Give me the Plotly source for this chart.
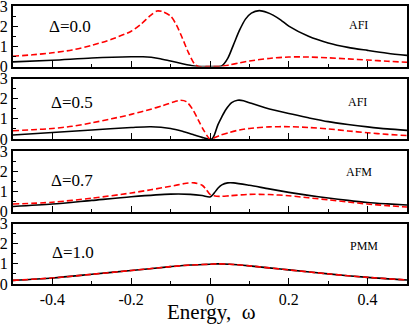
import plotly.graph_objects as go
from plotly.subplots import make_subplots

# panel 1, Delta = 0.0 (AFI)
p1_black_x = [-0.5, -0.4, -0.3, -0.2, -0.17, -0.13, -0.1, -0.07, -0.05, -0.035, -0.02, 0.0, 0.02, 0.03,
              0.045, 0.06, 0.075, 0.09, 0.105, 0.125, 0.145, 0.16, 0.18, 0.2, 0.25, 0.3, 0.35, 0.4, 0.45, 0.5]
p1_black_y = [0.23, 0.31, 0.42, 0.48, 0.48, 0.4, 0.27, 0.14, 0.06, 0.01, 0.0, 0.0, 0.0, 0.03,
              0.4, 1.1, 1.8, 2.35, 2.65, 2.77, 2.68, 2.55, 2.3, 2.0, 1.5, 1.17, 0.95, 0.8, 0.66, 0.55]
p1_red_x = [-0.5, -0.45, -0.4, -0.35, -0.3, -0.25, -0.2, -0.175, -0.15, -0.135, -0.12, -0.1, -0.085,
            -0.07, -0.055, -0.04, -0.03, 0.0, 0.025, 0.05, 0.075, 0.1, 0.15, 0.2, 0.25, 0.3, 0.35, 0.4, 0.45, 0.5]
p1_red_y = [0.51, 0.58, 0.68, 0.82, 1.05, 1.35, 1.75, 2.1, 2.55, 2.75, 2.72, 2.5, 2.05,
            1.4, 0.7, 0.15, 0.0, 0.0, 0.0, 0.08, 0.18, 0.27, 0.4, 0.47, 0.47, 0.43, 0.38, 0.32, 0.26, 0.21]

# panel 2, Delta = 0.5 (AFI)
p2_black_x = [-0.5, -0.4, -0.3, -0.2, -0.15, -0.1, -0.07, -0.04, -0.02, -0.005, 0.005, 0.01, 0.02, 0.03,
              0.04, 0.055, 0.07, 0.085, 0.1, 0.14, 0.2, 0.25, 0.3, 0.35, 0.4, 0.45, 0.5]
p2_black_y = [0.2, 0.32, 0.45, 0.57, 0.61, 0.52, 0.38, 0.2, 0.08, 0.0, 0.0, 0.15, 0.7, 1.1,
              1.45, 1.8, 1.92, 1.9, 1.8, 1.55, 1.26, 1.05, 0.86, 0.72, 0.6, 0.5, 0.43]
p2_red_x = [-0.5, -0.45, -0.4, -0.35, -0.3, -0.25, -0.2, -0.15, -0.12, -0.09, -0.075, -0.06, -0.045,
            -0.03, -0.015, 0.0, 0.01, 0.025, 0.05, 0.075, 0.1, 0.15, 0.2, 0.25, 0.3, 0.35, 0.4, 0.45, 0.5]
p2_red_y = [0.41, 0.46, 0.52, 0.63, 0.8, 1.0, 1.22, 1.48, 1.65, 1.85, 1.92, 1.85, 1.5,
            0.95, 0.4, 0.0, 0.05, 0.18, 0.33, 0.45, 0.52, 0.6, 0.61, 0.57, 0.5, 0.4, 0.31, 0.23, 0.17]

# panel 3, Delta = 0.7 (AFM)
p3_black_x = [-0.5, -0.4, -0.3, -0.2, -0.1, -0.05, -0.02, 0.0, 0.01, 0.02, 0.03, 0.045, 0.06,
              0.1, 0.15, 0.2, 0.25, 0.3, 0.35, 0.4, 0.45, 0.5]
p3_black_y = [0.25, 0.37, 0.55, 0.73, 0.86, 0.85, 0.79, 0.72, 0.9, 1.15, 1.32, 1.42, 1.42,
              1.3, 1.12, 0.95, 0.8, 0.67, 0.55, 0.45, 0.38, 0.32]
p3_red_x = [-0.5, -0.4, -0.3, -0.2, -0.15, -0.1, -0.06, -0.04, -0.02, -0.01, 0.0, 0.01, 0.025,
            0.05, 0.1, 0.15, 0.2, 0.25, 0.3, 0.35, 0.4, 0.45, 0.5]
p3_red_y = [0.37, 0.46, 0.66, 0.92, 1.08, 1.25, 1.4, 1.42, 1.3, 1.1, 0.85, 0.78, 0.75,
            0.78, 0.85, 0.84, 0.78, 0.68, 0.58, 0.47, 0.37, 0.29, 0.22]

# panel 4, Delta = 1.0 (PMM) - both curves coincide
p4_x = [-0.5, -0.4, -0.3, -0.2, -0.1, -0.05, 0.0, 0.02, 0.05, 0.1, 0.15, 0.2, 0.3, 0.4, 0.5]
p4_black_y = [0.18, 0.3, 0.48, 0.67, 0.86, 0.94, 0.98, 1.0, 0.98, 0.9, 0.8, 0.7, 0.5, 0.33, 0.2]
p4_red_y = [0.18, 0.3, 0.48, 0.67, 0.86, 0.94, 0.98, 1.0, 0.98, 0.9, 0.8, 0.7, 0.5, 0.33, 0.2]

delta_labels = ["\u0394=0.0", "\u0394=0.5", "\u0394=0.7", "\u0394=1.0"]
phase_labels = ["AFI", "AFI", "AFM", "PMM"]

panels = [
    (p1_black_x, p1_black_y, p1_red_x, p1_red_y),
    (p2_black_x, p2_black_y, p2_red_x, p2_red_y),
    (p3_black_x, p3_black_y, p3_red_x, p3_red_y),
    (p4_x, p4_black_y, p4_x, p4_red_y),
]

SERIF = "Liberation Serif, Times New Roman, serif"

fig = make_subplots(rows=4, cols=1, shared_xaxes=True, vertical_spacing=12 / 278)

for i, (bx, by, rx, ry) in enumerate(panels, start=1):
    fig.add_trace(
        go.Scatter(x=bx, y=by, mode="lines", line=dict(color="black", width=1.6, shape="spline", smoothing=0.8),
                   showlegend=False),
        row=i, col=1,
    )
    fig.add_trace(
        go.Scatter(x=rx, y=ry, mode="lines",
                   line=dict(color="#ff0000", width=1.6, dash="6px,3px", shape="spline", smoothing=0.8),
                   showlegend=False),
        row=i, col=1,
    )

label_pos = [(-0.355, 2.0, 0.376, 2.08), (-0.349, 1.8, 0.374, 1.82),
             (-0.35, 1.53, 0.379, 1.95), (-0.348, 1.55, 0.39, 1.88)]
for i, (dx, dy, px, py) in enumerate(label_pos, start=1):
    xr = "x" if i == 1 else f"x{i}"
    yr = "y" if i == 1 else f"y{i}"
    fig.add_annotation(x=dx, y=dy, xref=xr, yref=yr, text=delta_labels[i - 1], showarrow=False,
                       font=dict(family=SERIF, size=17, color="black"))
    fig.add_annotation(x=px, y=py, xref=xr, yref=yr, text=phase_labels[i - 1], showarrow=False,
                       font=dict(family=SERIF, size=12, color="black"))

fig.update_xaxes(
    range=[-0.5, 0.5], showgrid=False, zeroline=False, automargin=False,
    showline=True, linecolor="black", linewidth=2, mirror=True,
    ticks="inside", ticklen=6, tickwidth=1.2, tickcolor="black",
    tickvals=[-0.4, -0.2, 0, 0.2, 0.4], ticktext=["-0.4", "-0.2", "0", "0.2", "0.4"],
    minor=dict(tickvals=[-0.3, -0.1, 0.1, 0.3], ticks="inside", ticklen=3, tickcolor="black", tickwidth=1.2),
    tickfont=dict(family=SERIF, size=16, color="black"),
)
fig.update_yaxes(
    range=[0, 3], showgrid=False, zeroline=False, automargin=False,
    showline=True, linecolor="black", linewidth=2, mirror=True,
    ticks="inside", ticklen=5, tickwidth=1.2, tickcolor="black",
    tickvals=[0, 1, 2, 3], ticklabeloverflow="allow",
    minor=dict(tickvals=[0.5, 1.5, 2.5], ticks="inside", ticklen=3, tickcolor="black", tickwidth=1.2),
    tickfont=dict(family=SERIF, size=16, color="black"),
)

fig.add_annotation(x=0.503, y=(284 - 311.5) / 278, xref="paper", yref="paper",
                   text="Energy,\u00a0\u00a0\u03c9", showarrow=False, yanchor="middle",
                   font=dict(family=SERIF, size=21, color="black"))

fig.update_layout(
    width=409, height=325,
    margin=dict(l=13, r=2, t=6, b=41, autoexpand=False),
    paper_bgcolor="white", plot_bgcolor="white",
)

# page body has a default 8px margin; drop it so the figure sits at the window origin
fig.write_html("out.html", config={"displayModeBar": False},
               post_script="document.body.style.margin='0';")
